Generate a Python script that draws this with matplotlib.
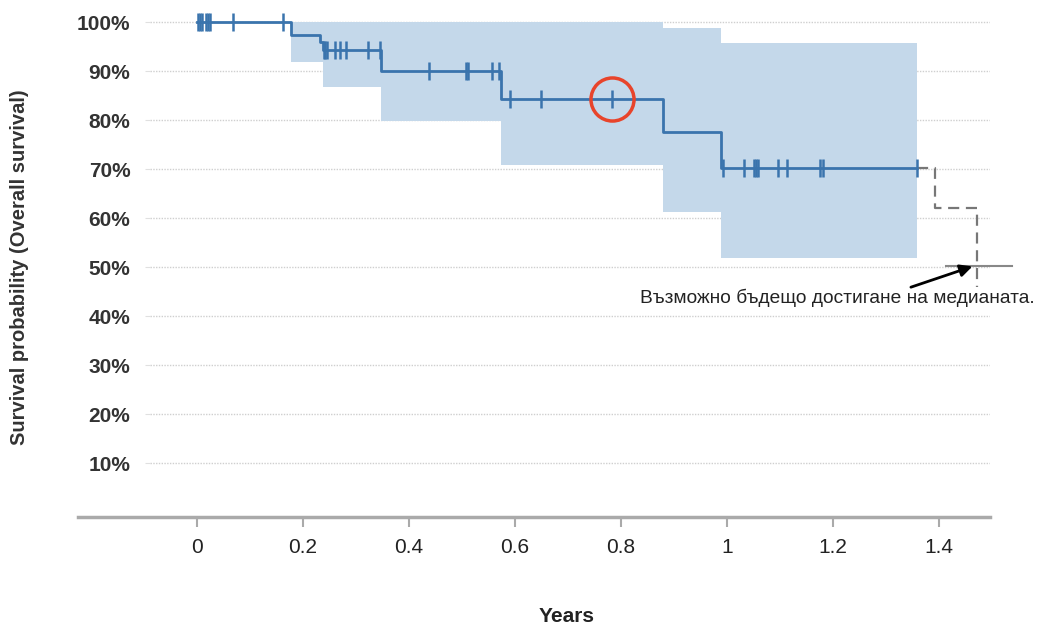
import numpy as np
import matplotlib
matplotlib.use('Agg')
from matplotlib import pyplot as plt

plt.rcParams['font.family'] = ['Liberation Sans', 'DejaVu Sans']

# Kaplan-Meier steps (years, survival, CI)
step_t = [0.0, 0.178, 0.232, 0.238, 0.348, 0.573, 0.879, 0.988, 1.358]
surv = [1.0, 0.973, 0.959, 0.943, 0.900, 0.843, 0.776, 0.702, 0.702]
ci_low = [1.0, 0.918, 0.918, 0.868, 0.798, 0.708, 0.613, 0.518, 0.518]
ci_high = [1.0, 1.0, 1.0, 1.0, 1.0, 1.0, 0.988, 0.957, 0.957]

# censored observations
cens_t = [0.001, 0.005, 0.009, 0.017, 0.021, 0.025, 0.067, 0.162,
          0.239, 0.242, 0.245, 0.260, 0.270, 0.281, 0.323, 0.345,
          0.438, 0.507, 0.512, 0.557, 0.570, 0.590, 0.649, 0.783,
          0.993, 1.032, 1.050, 1.054, 1.058, 1.096, 1.113, 1.175,
          1.181, 1.358]

# projected continuation (dashed)
proj_t = [1.358, 1.393, 1.393, 1.472, 1.472]
proj_s = [0.702, 0.702, 0.620, 0.620, 0.459]

highlight = (0.783, 0.843)
median_y = 0.503
note = 'Възможно бъдещо достигане на медианата.'

yticks = [0.1, 0.2, 0.3, 0.4, 0.5, 0.6, 0.7, 0.8, 0.9, 1.0]
xticks = [0, 0.2, 0.4, 0.6, 0.8, 1.0, 1.2, 1.4]
xlabels = ['0', '0.2', '0.4', '0.6', '0.8', '1', '1.2', '1.4']

blue = '#3a74ad'
fig = plt.figure(figsize=(10.44, 6.28), dpi=100)
ax = fig.add_axes([150/1044, 1-517/628, 840/1044, 512/628])
ax.set_xlim(-0.0887, 1.4962)
ax.set_ylim(-0.0102, 1.0347)

# grid
ax.hlines(yticks, -0.0887, 1.4962, colors='#cfcfcf', lw=1.0,
          linestyles=(0, (1, 1)), zorder=0)

ax.fill_between(step_t, ci_low, ci_high, step='post', color='#c4d8ea',
                lw=0, zorder=1)
ax.step(step_t, surv, where='post', color=blue, lw=2, zorder=3)

idx = np.searchsorted(step_t, cens_t, side='right') - 1
cens_s = np.array(surv)[idx]
ax.plot(cens_t, cens_s, ls='none', marker='|', ms=13, mew=1.8,
        color=blue, zorder=4)

ax.plot(proj_t, proj_s, color='#777777', lw=1.6, ls=(0, (5, 3)),
        zorder=3, clip_on=False)
ax.plot([1.413, 1.537], [median_y, median_y], color='#888888', lw=1.5,
        clip_on=False, zorder=3)

ax.plot([highlight[0]], [highlight[1]], marker='o', ms=31, mfc='none',
        mec='#e8442b', mew=2.5, zorder=5)

ax.annotate('', xy=(1.468, median_y), xytext=(1.342, 0.457),
            arrowprops=dict(arrowstyle='-|>', color='black', lw=2,
                            mutation_scale=18), annotation_clip=False)
ax.text(0.836, 0.438, note, fontsize=13.8, va='center', ha='left',
        color='#222222')

for s in ['left', 'right', 'top', 'bottom']:
    ax.spines[s].set_visible(False)
ax.plot([-0.0857, 1], [0, 0], transform=ax.transAxes, clip_on=False,
        color='#aaaaaa', lw=2.5)

ax.set_yticks(yticks)
ax.set_yticklabels(['%d%%' % round(v*100) for v in yticks],
                   fontweight='bold', fontsize=15, color='#333333')
ax.tick_params(axis='y', length=3.6, color='#e0e0e0', pad=10.5)
ax.set_xticks(xticks)
ax.set_xticklabels(xlabels, fontsize=15, color='#222222')
ax.tick_params(axis='x', length=7, width=1.5, color='#aaaaaa', pad=8)

fig.text(20/1044, 1-267/628, 'Survival probability (Overall survival)',
         rotation=90, ha='center', va='center', fontsize=14.5,
         fontweight='bold', color='#333333')
fig.text(567/1044, 1-617/628, 'Years', ha='center', va='center',
         fontsize=15, fontweight='bold', color='#222222')

fig.savefig('out.png', dpi=100)
